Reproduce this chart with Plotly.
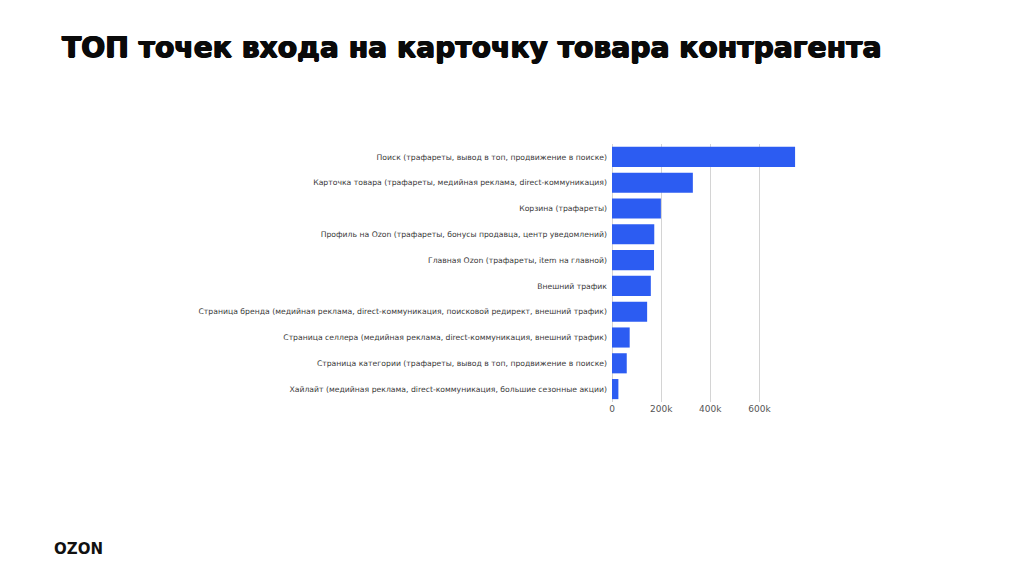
import plotly.graph_objects as go

# Точки входа (сверху вниз, как на слайде)
categories = [
    'Поиск (трафареты, вывод в топ, продвижение в поиске)',
    'Карточка товара (трафареты, медийная реклама, direct-коммуникация)',
    'Корзина (трафареты)',
    'Профиль на Ozon (трафареты, бонусы продавца, центр уведомлений)',
    'Главная Ozon (трафареты, item на главной)',
    'Внешний трафик',
    'Страница бренда (медийная реклама, direct-коммуникация, поисковой редирект, внешний трафик)',
    'Страница селлера (медийная реклама, direct-коммуникация, внешний трафик)',
    'Страница категории (трафареты, вывод в топ, продвижение в поиске)',
    'Хайлайт (медийная реклама, direct-коммуникация, большие сезонные акции)',
]
visits = [745000, 329000, 199000, 172000, 171000, 158000, 143000, 72000, 60000, 26000]
x_ticks = [0, 200000, 400000, 600000]

BAR_COLOR = '#2c5cf2'
W, H = 1024, 574
OFF = 8  # отступ body страницы

fig = go.Figure()
fig.add_trace(go.Bar(
    y=categories, x=visits, orientation='h',
    marker=dict(color=BAR_COLOR, line=dict(width=0)),
    width=0.78,
))

fig.update_layout(
    width=W, height=H,
    template='none',
    paper_bgcolor='white', plot_bgcolor='white',
    margin=dict(l=0, r=0, t=0, b=0),
    showlegend=False,
    font=dict(family='DejaVu Sans, sans-serif', color='#444'),
)

fig.update_xaxes(
    domain=[(612 - OFF) / W, (800 - OFF) / W],
    range=[0, 765000],
    tickvals=x_ticks, tickformat='~s',
    showgrid=True, gridcolor='#d4d4d4', gridwidth=1,
    zeroline=True, zerolinecolor='#d4d4d4',
    tickfont=dict(size=9, color='#555'),
    ticks='', automargin=False, showline=False,
)
fig.update_yaxes(
    domain=[(172 + OFF) / H, (430 + OFF) / H],
    autorange='reversed',
    showgrid=False, ticks='', automargin=False,
    tickfont=dict(size=7.7, color='#3a3a3a'),
    ticklabelstandoff=4,
)

# Заголовок слайда (тень утолщает начертание)
fig.add_annotation(
    text='<b>ТОП точек входа на карточку товара контрагента</b>',
    xref='paper', yref='paper', x=(60 - OFF) / W, y=1 - (47 - OFF) / H,
    xanchor='left', yanchor='middle', showarrow=False,
    font=dict(family='DejaVu Sans, sans-serif', size=28.2, color='#0a0a0a',
              shadow='0.7px 0 0 #0a0a0a, -0.7px 0 0 #0a0a0a, 0 0.5px 0 #0a0a0a'),
)

# Логотип
fig.add_annotation(
    text='<b>OZON</b>',
    xref='paper', yref='paper', x=(52 - OFF) / W, y=1 - (549 - OFF) / H,
    xanchor='left', yanchor='middle', showarrow=False,
    font=dict(family='DejaVu Sans, sans-serif', size=15, color='#111'),
)

fig.write_html('out.html')
